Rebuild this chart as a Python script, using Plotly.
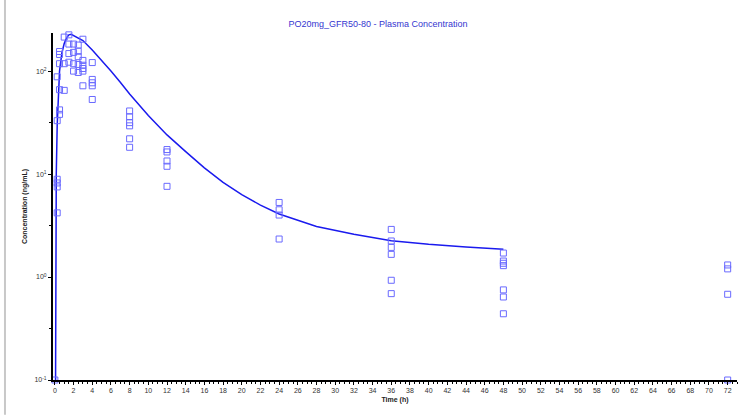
import plotly.graph_objects as go

# Observed concentrations (ng/mL) by sampling time (h)
obs_t0 = [0.1]
obs_t025 = [4.2, 7.5, 8.2, 8.9, 33, 88]
obs_t05 = [38, 42, 66, 118, 145, 155]
obs_t1 = [65, 118, 214]
obs_t15 = [122, 148, 183, 225]
obs_t2 = [100, 118, 152, 183]
obs_t25 = [97, 116, 138, 156, 179]
obs_t3 = [72, 100, 106, 114, 127, 204]
obs_t4 = [53, 72, 77, 83, 121]
obs_t8 = [18.2, 22, 29.4, 31.6, 36, 41]
obs_t12 = [7.6, 11.9, 13.4, 16.4, 17.3]
obs_t24 = [2.34, 4.0, 4.5, 5.3]
obs_t36 = [0.69, 0.93, 1.66, 1.94, 2.24, 2.9]
obs_t48 = [0.44, 0.64, 0.75, 1.29, 1.36, 1.43, 1.71]
obs_t72 = [0.1, 0.68, 1.2, 1.31]

obs_groups = [
    (0, obs_t0), (0.25, obs_t025), (0.5, obs_t05), (1, obs_t1), (1.5, obs_t15),
    (2, obs_t2), (2.5, obs_t25), (3, obs_t3), (4, obs_t4), (8, obs_t8),
    (12, obs_t12), (24, obs_t24), (36, obs_t36), (48, obs_t48), (72, obs_t72),
]

# Predicted (mean) curve
pred_time = [0, 0.05, 0.1, 0.15, 0.25, 0.5, 0.75, 1, 1.25, 1.5, 1.75, 2, 2.5, 3, 4,
             5, 6, 7, 8, 10, 12, 14, 16, 18, 20, 22, 24, 28, 32, 36, 40, 44, 48]
pred_conc = [0.001, 0.5, 3, 10, 30, 100, 150, 185, 210, 225, 228, 222, 212, 198, 160,
             128, 100, 78, 60, 37, 24, 16.5, 11.5, 8.3, 6.3, 5.0, 4.1, 3.1, 2.6, 2.25,
             2.08, 1.96, 1.86]

x_ticks = list(range(0, 73, 2))
y_tickvals = [0.1, 1, 10, 100]
y_ticktext = ["10<sup>-1</sup>", "10<sup>0</sup>", "10<sup>1</sup>", "10<sup>2</sup>"]

obs_x, obs_y = [], []
for t, vals in obs_groups:
    obs_x += [t] * len(vals)
    obs_y += vals

fig = go.Figure()
fig.add_trace(go.Scatter(
    x=pred_time, y=pred_conc, mode="lines",
    line=dict(color="#1a1aee", width=1.5), showlegend=False,
))
fig.add_trace(go.Scatter(
    x=obs_x, y=obs_y, mode="markers",
    marker=dict(symbol="square-open", size=6, color="#6a6aff", line=dict(width=1)),
    showlegend=False, cliponaxis=False,
))

tick_font = dict(family="Liberation Sans, Arial", size=7, color="#333333")

fig.update_layout(
    width=744, height=415,
    margin=dict(l=53, r=7, t=33, b=35, autoexpand=False),
    paper_bgcolor="white", plot_bgcolor="white",
    title=dict(text="PO20mg_GFR50-80 - Plasma Concentration",
               font=dict(family="Liberation Sans, Arial", size=9, color="#3535d0"),
               x=0.508, xanchor="center", y=0.942, yanchor="middle"),
    xaxis=dict(
        range=[-0.2, 73], tickvals=x_ticks, ticks="outside", ticklen=3,
        tickcolor="black", showline=True, linecolor="black", linewidth=2,
        showgrid=False, zeroline=False, tickfont=tick_font, automargin=False,
        minor=dict(dtick=0.5, ticks="outside", ticklen=2, tickcolor="black"),
        title=dict(text="<b>Time (h)</b>", font=dict(family="Liberation Sans, Arial", size=7, color="#222222"),
                   standoff=4),
    ),
    yaxis=dict(
        type="log", range=[-1, 2.37], tickvals=y_tickvals, ticktext=y_ticktext,
        ticks="outside", ticklen=3, tickcolor="black",
        showline=True, linecolor="black", linewidth=2,
        showgrid=False, zeroline=False, tickfont=tick_font, automargin=False,
        minor=dict(tickvals=[0.316, 3.16, 31.6], ticks="outside", ticklen=2, tickcolor="black"),
        title=dict(text="<b>Concentration (ng/mL)</b>", font=dict(family="Liberation Sans, Arial", size=7, color="#222222"),
                   standoff=6),
    ),
    shapes=[dict(type="line", xref="paper", yref="paper", x0=-0.0702, x1=-0.0702,
                 y0=-0.1, y1=1.1, line=dict(color="#c8c8c8", width=2))],
)

fig.write_html("out.html", config={"displayModeBar": False},
               post_script="document.body.style.margin='0px';document.body.style.overflow='hidden';")
